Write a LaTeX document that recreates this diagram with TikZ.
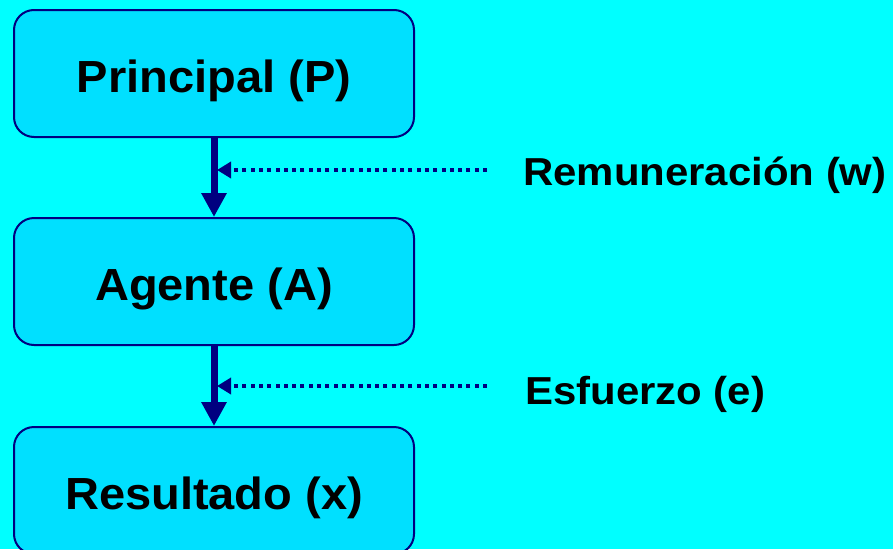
\documentclass[tikz,border=0pt]{standalone}
\usepackage{fontspec}
\usepackage{graphicx}
\setmainfont{Liberation Sans}
\usetikzlibrary{arrows.meta,calc}
\definecolor{bgcyan}{RGB}{0,255,255}
\definecolor{boxfill}{RGB}{0,224,255}
\definecolor{navy}{RGB}{0,0,128}
\tikzset{
  boxnode/.style={draw=navy, line width=2pt, fill=boxfill, rounded corners=20pt,
    minimum width=400pt, minimum height=127pt, inner sep=0pt,
    text height=37pt, text depth=0pt,
    font=\fontsize{45}{52}\selectfont\bfseries},
  labelnode/.style={anchor=base west, inner sep=0pt,
    font=\fontsize{39}{46}\selectfont\bfseries},
  mainarrow/.style={draw=navy, line width=7pt, -{Triangle[width=24pt,length=24pt]}},
  dotarrow/.style={draw=navy, line width=4pt, dash pattern=on 4pt off 4.3pt,
    -{Triangle[width=16pt,length=14pt]}}
}
\begin{document}
\begin{tikzpicture}[x=1pt,y=-1pt]
\fill[bgcyan] (0,0) rectangle (893,549);
\useasboundingbox (0,0) rectangle (893,549);
\node[boxnode] (P) at (214,73.5) {\scalebox{1.045}[1]{Principal (P)}};
\node[boxnode] (A) at (214,281.5) {\scalebox{1.045}[1]{Agente (A)}};
\node[boxnode] (R) at (214,490.5) {\scalebox{1.045}[1]{Resultado (x)}};
\draw[mainarrow] (P.south) -- (A.north);
\draw[mainarrow] (A.south) -- (R.north);
\coordinate (w1) at (487,170);
\coordinate (w2) at (217,170);
\coordinate (e1) at (487,386);
\coordinate (e2) at (217,386);
\draw[dotarrow] (w1) -- (w2);
\draw[dotarrow] (e1) -- (e2);
\node[labelnode] (lw) at (523,185) {\scalebox{1.075}[1]{Remuneración (w)}};
\node[labelnode] (le) at (525,404) {\scalebox{1.075}[1]{Esfuerzo (e)}};
\end{tikzpicture}
\end{document}
